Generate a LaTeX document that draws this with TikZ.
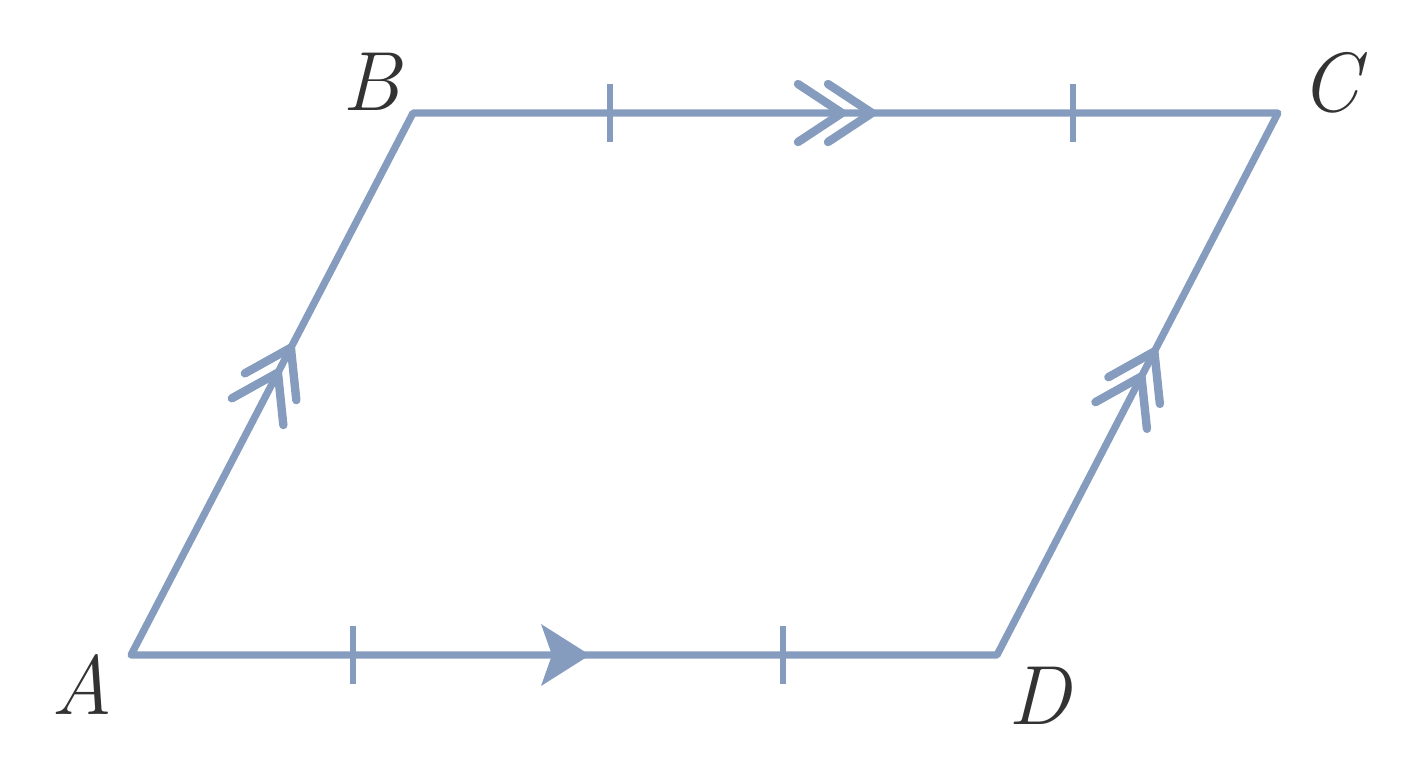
\documentclass[tikz,border=0pt]{standalone}
\usetikzlibrary{decorations.markings,calc}
\definecolor{edgeblue}{RGB}{134,156,191}
\definecolor{labelgray}{RGB}{51,51,51}
\begin{document}
\begin{tikzpicture}[x=0.5pt,y=-0.5pt,
  edge/.style={draw=edgeblue,line width=3.6pt,line join=round,line cap=round},
  tickmark/.style={draw=edgeblue,line width=3pt},
  chevron/.style={draw=edgeblue,line width=4.2pt,line cap=round,line join=miter},
  vlabel/.style={inner sep=0pt,text=labelgray,font=\fontsize{42}{50}\selectfont\itshape},
  dbl/.style={postaction={decorate,decoration={markings,
     mark=at position #1 with {\draw[chevron] (-44,29) -- (0,0) -- (-44,-29);}}}}
]
\useasboundingbox (0,0) rectangle (1408,768);
\coordinate (A) at (131,655);
\coordinate (B) at (413,113);
\coordinate (C) at (1278,113);
\coordinate (D) at (997,655);
\coordinate (t1) at (353,655);
\coordinate (t2) at (783,655);
\coordinate (t3) at (610,113);
\coordinate (t4) at (1073,113);
% sides
\draw[edge] (A) -- (B) -- (C) -- (D) -- cycle;
% ticks
\foreach \t in {t1,t2,t3,t4} \draw[tickmark] ($(\t)+(0,-29)$) -- ($(\t)+(0,29)$);
% filled arrow on AD
\coordinate (arr) at (590,655);
\fill[edgeblue] (arr) -- ++(-49,-31) -- ++(11,31) -- ++(-11,31) -- cycle;
% double chevrons
\path[dbl=0.567,dbl=0.521] (A) -- (B);
\path[dbl=0.560,dbl=0.514] (D) -- (C);
\coordinate (c1) at (842,113);
\coordinate (c2) at (872,113);
\foreach \c in {c1,c2} \draw[chevron] ($(\c)+(-44,-29)$) -- (\c) -- ($(\c)+(-44,29)$);
% labels
\node[vlabel] (lA) at (82,684) {A};
\node[vlabel] (lB) at (371,82) {B};
\node[vlabel] (lC) at (1330,83) {C};
\node[vlabel] (lD) at (1039,696) {D};
\end{tikzpicture}
\end{document}
